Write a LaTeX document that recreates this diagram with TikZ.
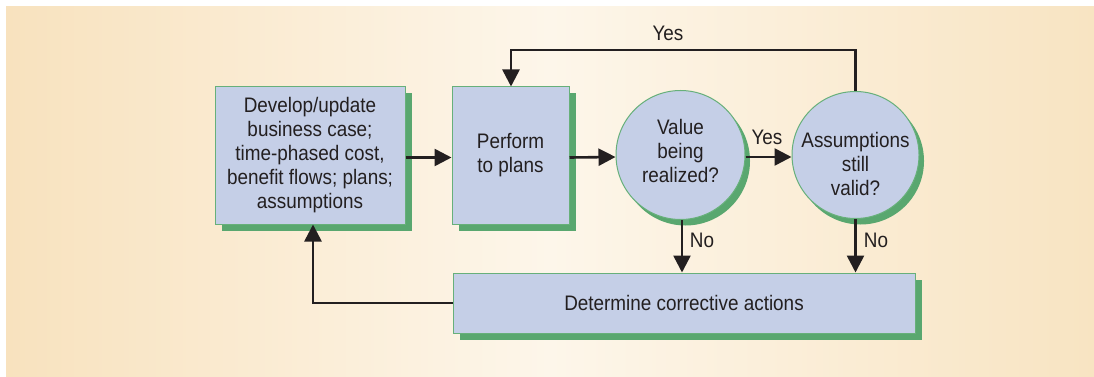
\documentclass[tikz,border=0pt]{standalone}
\usepackage{fontspec}
\setmainfont{Liberation Sans}[FakeStretch=0.9]
\usetikzlibrary{arrows.meta,shadows}
\definecolor{bgedge}{HTML}{F8E2BE}
\definecolor{bgmid}{HTML}{FDF6EA}
\definecolor{bgright}{HTML}{F8E4C2}
\definecolor{boxfill}{HTML}{C5CFE7}
\definecolor{boxline}{HTML}{67B07A}
\definecolor{shade}{HTML}{59A76F}
\definecolor{ink}{HTML}{231F20}
\tikzset{
  txt/.style={font=\fontsize{21}{24}\selectfont, text=ink, align=center, inner sep=0pt},
  boxnode/.style={draw=boxline, line width=1pt, fill=boxfill, rectangle, inner sep=0pt,
    drop shadow={shadow xshift=6.5pt, shadow yshift=-6.5pt, fill=shade, opacity=1},
    font=\fontsize{21}{24}\selectfont, text=ink, align=center},
  decision/.style={draw=boxline, line width=1pt, fill=boxfill, circle, inner sep=0pt,
    drop shadow={shadow xshift=5pt, shadow yshift=-6pt, fill=shade, opacity=1}},
  arr/.style={draw=ink, line width=2.6pt, -{Triangle[width=17pt,length=17pt]}},
  plain/.style={draw=ink, line width=2.6pt}
}
\begin{document}
\begin{tikzpicture}[x=1pt,y=-1pt]
\useasboundingbox (0,0) rectangle (1094,377);
\fill[white] (0,0) rectangle (1094,377);
\shade[left color=bgedge, right color=bgright, middle color=bgmid] (6,7) rectangle (1094,377);

\node[boxnode, minimum width=190pt, minimum height=137pt] (b1) at (310,155.5)
  {Develop/update\\business case;\\time-phased cost,\\benefit flows; plans;\\assumptions};
\node[boxnode, minimum width=117pt, minimum height=137pt] (b2) at (510.5,155.5)
  {Perform\\to plans};
\node[decision, minimum size=129pt] (c1) at (680.5,155) {};
\node[txt] (c1t) at (680.5,151) {Value\\being\\realized?};
\node[decision, minimum size=127pt] (c2) at (855.5,155) {};
\node[txt] (c2t) at (855.5,164) {Assumptions\\still\\valid?};
\node[boxnode, minimum width=462pt, minimum height=60pt] (b3) at (684,303)
  {Determine corrective actions};

\coordinate (top) at (511,50);
\coordinate (ret) at (313,303);

\draw[arr] ([yshift=-2pt]b1.east) -- ([yshift=-2pt]b2.west);
\draw[arr] ([yshift=-2pt]b2.east) -- ([yshift=-2pt]c1.west);
\draw[arr] ([yshift=-2pt]c1.east) -- ([yshift=-2pt]c2.west);
\node[txt] (yes1) at (767,137) {Yes};
\draw[arr] (c2.north) |- (top) -- (top |- b2.north);
\node[txt] (yes2) at (668,33) {Yes};
\draw[arr] ([xshift=1.5pt]c1.south) -- ([xshift=1.5pt]c1.south |- b3.north);
\node[txt] (no1) at (702,240) {No};
\draw[arr] (c2.south) -- (c2.south |- b3.north);
\node[txt] (no2) at (876,240) {No};
\draw[arr] (b3.west) -| (ret) -- (ret |- b1.south);
\end{tikzpicture}
\end{document}
